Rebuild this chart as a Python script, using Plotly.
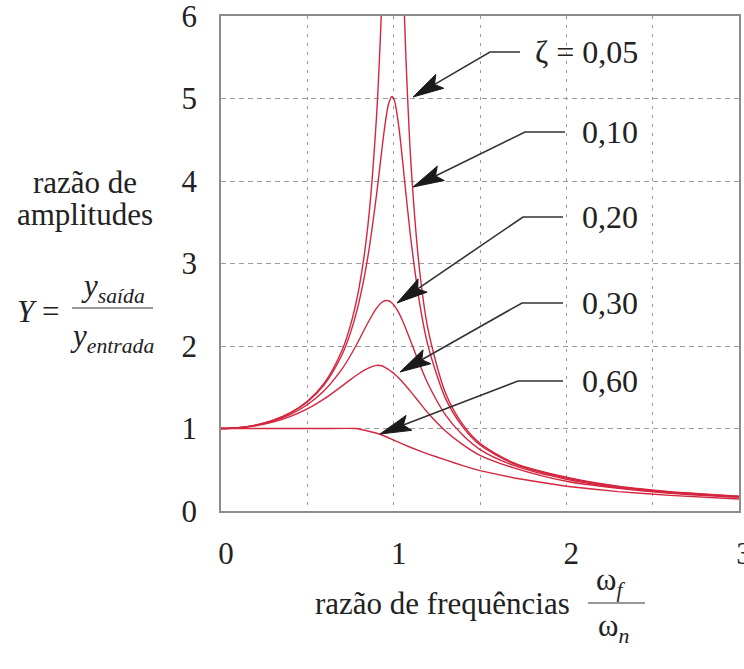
import math
import plotly.graph_objects as go

# ---------------- data ----------------
freq_ratio = [0, 0.1, 0.2, 0.3, 0.4, 0.5, 0.6, 0.7, 0.75, 0.8, 0.85, 0.9, 0.93, 0.95, 0.97,
              0.99, 1.0, 1.01, 1.03, 1.05, 1.07, 1.1, 1.15, 1.2, 1.3, 1.4, 1.5, 1.7, 2.0,
              2.3, 2.6, 3.0]

amp_z005 = [1.0, 1.010, 1.041, 1.098, 1.189, 1.330, 1.556, 1.943, 2.253, 2.712, 3.446, 4.757,
            6.097, 7.346, 8.804, 9.903, 10.0, 9.711, 8.357, 6.815, 5.552, 4.218, 2.921, 2.193,
            1.430, 1.050, 0.820, 0.580, 0.410, 0.300, 0.235, 0.180]
amp_z010 = [1.0, 1.010, 1.041, 1.097, 1.185, 1.322, 1.536, 1.891, 2.162, 2.538, 3.073, 3.821,
            4.350, 4.683, 4.931, 5.025, 5.0, 4.926, 4.655, 4.279, 3.869, 3.288, 2.524, 1.995,
            1.365, 1.020, 0.800, 0.570, 0.400, 0.295, 0.230, 0.177]
amp_z020 = [1.0, 1.009, 1.038, 1.089, 1.169, 1.288, 1.463, 1.719, 1.885, 2.076, 2.279, 2.457,
            2.527, 2.549, 2.548, 2.522, 2.5, 2.472, 2.401, 2.313, 2.213, 2.051, 1.780, 1.536,
            1.165, 0.920, 0.745, 0.550, 0.385, 0.285, 0.225, 0.172]
amp_z030 = [1.0, 1.008, 1.034, 1.078, 1.145, 1.238, 1.362, 1.514, 1.593, 1.667, 1.730, 1.765,
            1.760, 1.742, 1.715, 1.686, 1.668, 1.649, 1.610, 1.567, 1.519, 1.444, 1.313, 1.185,
            0.970, 0.805, 0.675, 0.520, 0.360, 0.275, 0.215, 0.165]

freq_ratio_z060 = [0, 0.2, 0.4, 0.6, 0.78, 0.85, 0.92, 1.0, 1.1, 1.2, 1.3, 1.4, 1.5, 1.7, 2.0,
                   2.3, 2.6, 3.0]
amp_z060 = [1.0, 1.0, 1.0, 1.0, 1.0, 0.97, 0.93, 0.86, 0.77, 0.69, 0.62, 0.55, 0.49, 0.40,
            0.30, 0.235, 0.19, 0.145]

damping_labels = ["ζ = 0,05", "0,10", "0,20", "0,30", "0,60"]
x_tick_vals = [0, 0.5, 1, 1.5, 2, 2.5, 3]
x_tick_text = ["0", "", "1", "", "2", "", "3"]
y_tick_vals = [0, 1, 2, 3, 4, 5, 6]
y_tick_text = ["0", "1", "2", "3", "4", "5", "6"]

# ---------------- layout geometry ----------------
W, H = 744, 669
ML, MR, MT, MB = 221, 5, 16, 158
PW, PH = W - ML - MR, H - MT - MB
XR, YR = (0, 3), (0, 6)
SX = PW / (XR[1] - XR[0])
SY = PH / (YR[1] - YR[0])

def p2d(px, py):
    return XR[0] + (px - ML) / SX, YR[1] - (py - MT) / SY

def p2paper(px, py):
    return (px - ML) / PW, (MT + PH - py) / PH

CURVE = "#d3263f"
FONT = "Liberation Serif, Times New Roman, serif"
TXT = "#222222"

fig = go.Figure()
for xs, ys in [(freq_ratio, amp_z005), (freq_ratio, amp_z010), (freq_ratio, amp_z020),
               (freq_ratio, amp_z030)]:
    fig.add_trace(go.Scatter(x=xs, y=ys, mode="lines",
                             line=dict(color=CURVE, width=1.4, shape="spline", smoothing=0.8),
                             hoverinfo="skip", showlegend=False))
fig.add_trace(go.Scatter(x=freq_ratio_z060, y=amp_z060, mode="lines",
                         line=dict(color=CURVE, width=1.4, shape="spline", smoothing=0.3),
                         hoverinfo="skip", showlegend=False))

# ---------------- leader lines with arrows (pixel layout) ----------------
# (label centre y, leader right end x, elbow x, tip px, tip py)
leaders = [
    (52, 520, 490, 413, 97),
    (132, 565, 525, 413, 187),
    (217, 563, 523, 397, 303),
    (303, 563, 522, 400, 372),
    (381, 563, 518, 380, 434),
]
LABEL_RIGHT = 640
HEAD_L, HEAD_W, NOTCH = 31, 16, 6
shapes = []
annotations = []
for (ly, rx, ex, tx, ty), lab in zip(leaders, damping_labels):
    ux, uy = ex - tx, ly - ty
    n = math.hypot(ux, uy)
    ux, uy = ux / n, uy / n
    vx, vy = -uy, ux
    bx, by = tx + HEAD_L * ux, ty + HEAD_L * uy
    nx_, ny_ = tx + (HEAD_L - NOTCH) * ux, ty + (HEAD_L - NOTCH) * uy
    pts_line = [(rx, ly), (ex, ly), (nx_, ny_)]
    path = "M " + " L ".join("%f,%f" % p2d(px, py) for px, py in pts_line)
    shapes.append(dict(type="path", path=path, xref="x", yref="y",
                       line=dict(color="#333333", width=1.6)))
    head = [(tx, ty), (bx + HEAD_W / 2 * vx, by + HEAD_W / 2 * vy), (nx_, ny_),
            (bx - HEAD_W / 2 * vx, by - HEAD_W / 2 * vy)]
    hpath = "M " + " L ".join("%f,%f" % p2d(px, py) for px, py in head) + " Z"
    shapes.append(dict(type="path", path=hpath, xref="x", yref="y",
                       fillcolor="#1a1a1a", line=dict(color="#1a1a1a", width=1)))
    ax_, ay_ = p2paper(LABEL_RIGHT, ly)
    annotations.append(dict(text=lab, x=ax_, y=ay_, xref="paper", yref="paper",
                            xanchor="right", yanchor="middle", showarrow=False,
                            font=dict(family=FONT, size=32, color=TXT)))

def add_text(text, px, py, size=31, xanchor="center"):
    ax_, ay_ = p2paper(px, py)
    annotations.append(dict(text=text, x=ax_, y=ay_, xref="paper", yref="paper",
                            xanchor=xanchor, yanchor="middle", showarrow=False,
                            font=dict(family=FONT, size=size, color=TXT)))

def add_bar(px0, px1, py):
    x0, y0 = p2paper(px0, py)
    x1, _ = p2paper(px1, py)
    shapes.append(dict(type="line", xref="paper", yref="paper", x0=x0, x1=x1, y0=y0, y1=y0,
                       line=dict(color="#333333", width=1.2)))

# y title
add_text("razão de", 85, 183)
add_text("amplitudes", 85, 214)
add_text("<i>Y</i> =", 38, 311)
add_text("<i>y</i><sub><i>saída</i></sub>", 113, 288)
add_bar(72, 153, 308)
add_text("<i>y</i><sub><i>entrada</i></sub>", 112, 338)

# x title
add_text("razão de frequências", 442, 603)
add_text("ω<sub><i>f</i></sub>", 610, 582)
add_bar(588, 645, 603)
add_text("ω<sub><i>n</i></sub>", 613, 628)

fig.update_layout(
    width=W, height=H,
    margin=dict(l=ML, r=MR, t=MT, b=MB, pad=0, autoexpand=False),
    plot_bgcolor="white", paper_bgcolor="white",
    shapes=shapes, annotations=annotations,
    font=dict(family=FONT, color=TXT),
    xaxis=dict(range=list(XR), tickvals=x_tick_vals, ticktext=x_tick_text,
               automargin=False,
               showgrid=True, gridcolor="#9a9a9a", gridwidth=1.2, griddash="3px,6px",
               zeroline=False, showline=True, mirror=True, linecolor="#8c8c8c",
               linewidth=1.5, ticks="", ticklabelstandoff=14, ticklabelshift=5,
               ticklabeloverflow="allow",
               tickfont=dict(family=FONT, size=31, color=TXT)),
    yaxis=dict(range=list(YR), tickvals=y_tick_vals, ticktext=y_tick_text,
               automargin=False,
               showgrid=True, gridcolor="#9a9a9a", gridwidth=1.2, griddash="5px,4px",
               zeroline=False, showline=True, mirror=True, linecolor="#8c8c8c",
               linewidth=1.5, ticks="", ticklabelstandoff=16,
               ticklabeloverflow="allow",
               tickfont=dict(family=FONT, size=31, color=TXT)),
)

fig.write_html("out.html")
